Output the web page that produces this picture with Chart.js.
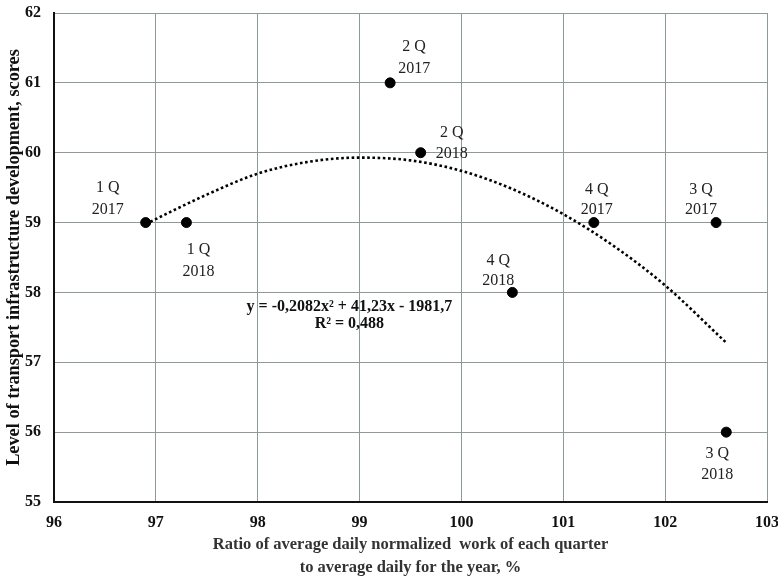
<!DOCTYPE html>
<html>
<head>
<meta charset="utf-8">
<script src="https://cdn.jsdelivr.net/npm/chart.js@4.4.1/dist/chart.umd.min.js"></script>
<style>
  html, body { margin: 0; padding: 0; background: #fff; }
  #wrap { width: 778px; height: 579px; }
</style>
</head>
<body>
<div id="wrap"><canvas id="chart" width="778" height="579"></canvas></div>
<script>
// quarters
const quarterNames = ["1 Q|2017", "1 Q|2018", "2 Q|2017", "2 Q|2018", "4 Q|2018", "4 Q|2017", "3 Q|2017", "3 Q|2018"];
const ratioValues = [96.9, 97.3, 99.3, 99.6, 100.5, 101.3, 102.5, 102.6];
const scoreValues = [59, 59, 61, 60, 58, 59, 59, 56];

// polynomial trend line
const trendX = [96.9, 97.5, 98, 98.5, 99, 99.5, 100, 100.5, 101, 101.5, 102, 102.6];
const trendY = [58.98, 59.4, 59.7, 59.87, 59.93, 59.89, 59.74, 59.48, 59.12, 58.66, 58.1, 57.28];

const equationLines = ["y = -0,2082x² + 41,23x - 1981,7", "R² = 0,488"];
const equationAt = { x: 98.9, y: 57.79 };

const xTicks = [96, 97, 98, 99, 100, 101, 102, 103];
const yTicks = [55, 56, 57, 58, 59, 60, 61, 62];

const xTitle = ["Ratio of average daily normalized  work of each quarter", "to average daily for the year, %"];
const yTitle = "Level of transport infrastructure development, scores";

// label offsets from each point (px): text centre x, first line y, second line y
const labelOffsets = [
  [-38, -35, -13], [12, 27, 49], [24, -36, -14], [31, -20, 1],
  [-14, -32, -12], [3, -33, -13], [-15, -33, -13], [-9, 22, 43]
];

const serif = "'Liberation Serif', 'Times New Roman', serif";
const gridColor = "#8e9b93";

const labelsPlugin = {
  id: "pointLabels",
  afterDatasetsDraw(chart) {
    const { ctx, scales } = chart;
    ctx.save();
    ctx.fillStyle = "#222";
    ctx.font = "16px " + serif;
    ctx.textAlign = "center";
    ctx.textBaseline = "middle";
    quarterNames.forEach((name, i) => {
      const px = scales.x.getPixelForValue(ratioValues[i]);
      const py = scales.y.getPixelForValue(scoreValues[i]);
      const [dx, dy1, dy2] = labelOffsets[i];
      const parts = name.split("|");
      ctx.fillText(parts[0], px + dx, py + dy1);
      ctx.fillText(parts[1], px + dx, py + dy2);
    });
    ctx.fillStyle = "#111";
    ctx.font = "bold 16px " + serif;
    const ex = scales.x.getPixelForValue(equationAt.x);
    const ey = scales.y.getPixelForValue(equationAt.y);
    ctx.fillText(equationLines[0], ex, ey);
    ctx.fillText(equationLines[1], ex, ey + 17);
    ctx.restore();
  }
};

new Chart(document.getElementById("chart"), {
  type: "scatter",
  data: {
    datasets: [
      {
        label: "quarters",
        data: ratioValues.map((x, i) => ({ x, y: scoreValues[i] })),
        backgroundColor: "#000",
        borderColor: "#000",
        pointRadius: 5,
        pointHoverRadius: 5,
        order: 1
      },
      {
        label: "trend",
        type: "line",
        data: trendX.map((x, i) => ({ x, y: trendY[i] })),
        borderColor: "#000",
        borderWidth: 2.6,
        borderDash: [2.6, 2.6],
        pointRadius: 0,
        fill: false,
        cubicInterpolationMode: "monotone",
        order: 2
      }
    ]
  },
  options: {
    responsive: false,
    animation: false,
    events: [],
    layout: { padding: { top: 13, right: 11, left: 0, bottom: 0 } },
    plugins: {
      legend: { display: false },
      tooltip: { enabled: false }
    },
    scales: {
      x: {
        type: "linear",
        min: 96,
        max: 103,
        afterBuildTicks: (s) => { s.ticks = xTicks.map((v) => ({ value: v })); },
        afterFit: (s) => { s.height = 77; s.paddingLeft = 0; s.paddingRight = 0; },
        grid: { color: gridColor, lineWidth: 1, drawTicks: false },
        border: { color: "#111", width: 2 },
        ticks: { color: "#111", padding: 11, font: { family: serif, size: 16, weight: "bold" } },
        title: {
          display: true,
          text: xTitle,
          color: "#333",
          padding: { top: 0, bottom: 0 },
          font: { family: serif, size: 16.5, weight: "bold", lineHeight: 1.4 }
        }
      },
      y: {
        type: "linear",
        min: 55,
        max: 62,
        afterBuildTicks: (s) => { s.ticks = yTicks.map((v) => ({ value: v })); },
        afterFit: (s) => { s.width = 54; s.paddingTop = 0; s.paddingBottom = 0; },
        grid: { color: gridColor, lineWidth: 1, drawTicks: false },
        border: { color: "#111", width: 2 },
        ticks: { color: "#111", padding: 13, font: { family: serif, size: 16, weight: "bold" } },
        title: {
          display: true,
          text: yTitle,
          color: "#111",
          padding: { top: 3, bottom: 0 },
          font: { family: serif, size: 18.3, weight: "bold" }
        }
      }
    }
  },
  plugins: [labelsPlugin]
});
</script>
</body>
</html>
